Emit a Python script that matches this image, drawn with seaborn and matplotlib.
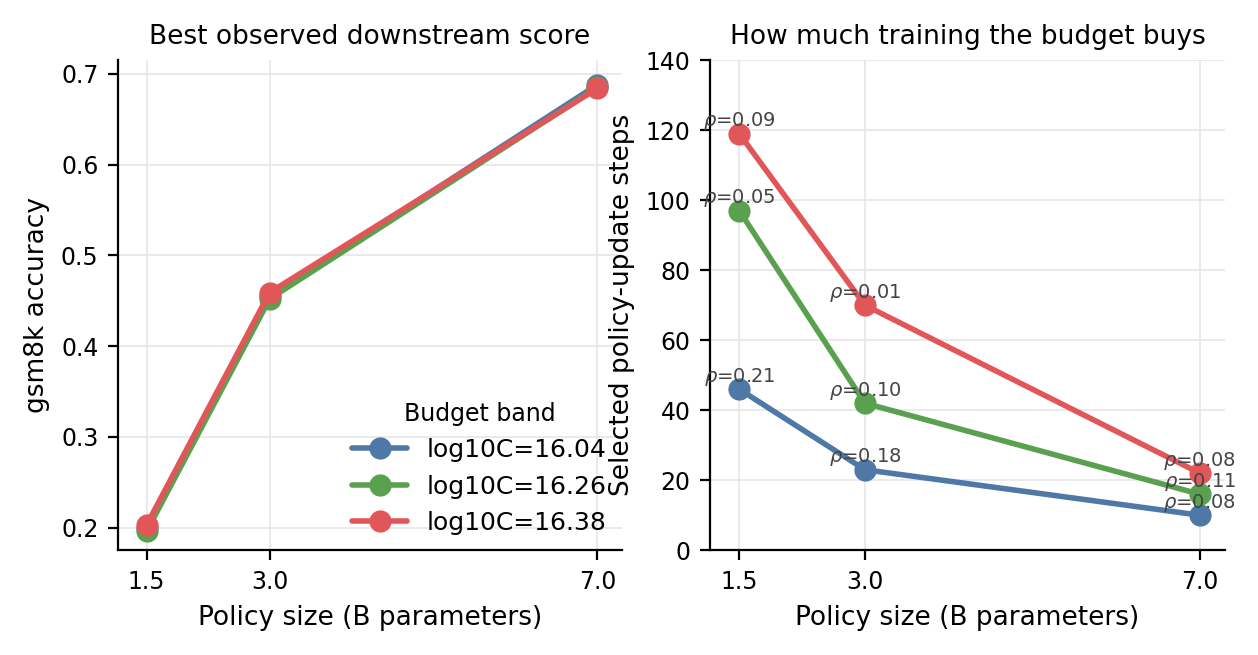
import matplotlib
matplotlib.use("Agg")
import matplotlib.pyplot as plt
import seaborn as sns
import pandas as pd

sizes = [1.5, 3.0, 7.0]
bands = ["log10C=16.04", "log10C=16.26", "log10C=16.38"]
acc = {"log10C=16.04": [0.200, 0.455, 0.688],
       "log10C=16.26": [0.196, 0.452, 0.685],
       "log10C=16.38": [0.203, 0.459, 0.684]}
steps = {"log10C=16.04": [46, 23, 10],
         "log10C=16.26": [97, 42, 16],
         "log10C=16.38": [119, 70, 22]}
rhos = {"log10C=16.04": ["0.21", "0.18", "0.08"],
        "log10C=16.26": ["0.05", "0.10", "0.11"],
        "log10C=16.38": ["0.09", "0.01", "0.08"]}
colors = ["#4e79a7", "#59a14f", "#e15759"]

rows = []
for b in bands:
    for i, s in enumerate(sizes):
        rows.append(dict(size=s, band=b, acc=acc[b][i], steps=steps[b][i], rho=rhos[b][i]))
df = pd.DataFrame(rows)

sns.set_style("ticks")
plt.rcParams["font.family"] = ["DejaVu Sans"]
for k in ["text.color", "axes.labelcolor", "xtick.color", "ytick.color", "axes.edgecolor"]:
    plt.rcParams[k] = "black"
fig, (ax1, ax2) = plt.subplots(1, 2, figsize=(6.29, 3.275), dpi=200)
ax1.set_position([118 / 1258, 0.160, 504 / 1258, 0.748])
ax2.set_position([710 / 1258, 0.160, 515 / 1258, 0.748])

pal = dict(zip(bands, colors))
for ax, col in [(ax1, "acc"), (ax2, "steps")]:
    sns.lineplot(data=df, x="size", y=col, hue="band", palette=pal, marker="o",
                 markersize=8, markeredgewidth=0, linewidth=2, ax=ax, legend=(ax is ax1))
    ax.set_xticks(sizes)
    ax.set_xticklabels(["1.5", "3.0", "7.0"])
    ax.set_xlim(1.15, 7.3)
    ax.grid(True, color="#e6e6e6", linewidth=0.6)
    ax.tick_params(labelsize=8.5)
    sns.despine(ax=ax)
    ax.set_xlabel("Policy size (B parameters)", fontsize=9.5)

ax1.set_ylim(0.175, 0.715)
ax1.set_ylabel("gsm8k accuracy", fontsize=9.5)
ax1.set_title("Best observed downstream score", fontsize=9.5)
leg = ax1.legend(title="Budget band", loc="lower right", frameon=False, fontsize=9,
                 title_fontsize=8.5, borderaxespad=0.2, handlelength=2.2)

ax2.set_ylim(0, 140)
ax2.set_ylabel("Selected policy-update steps", fontsize=9.5)
ax2.set_title("How much training the budget buys", fontsize=9.5)
for _, r in df.iterrows():
    ax2.annotate(r"$\rho$=" + r["rho"], (r["size"], r["steps"]), xytext=(0, 0.5),
                 textcoords="offset points", ha="center", va="bottom",
                 fontsize=7, color="#444444")

fig.savefig("out.png", dpi=200)
